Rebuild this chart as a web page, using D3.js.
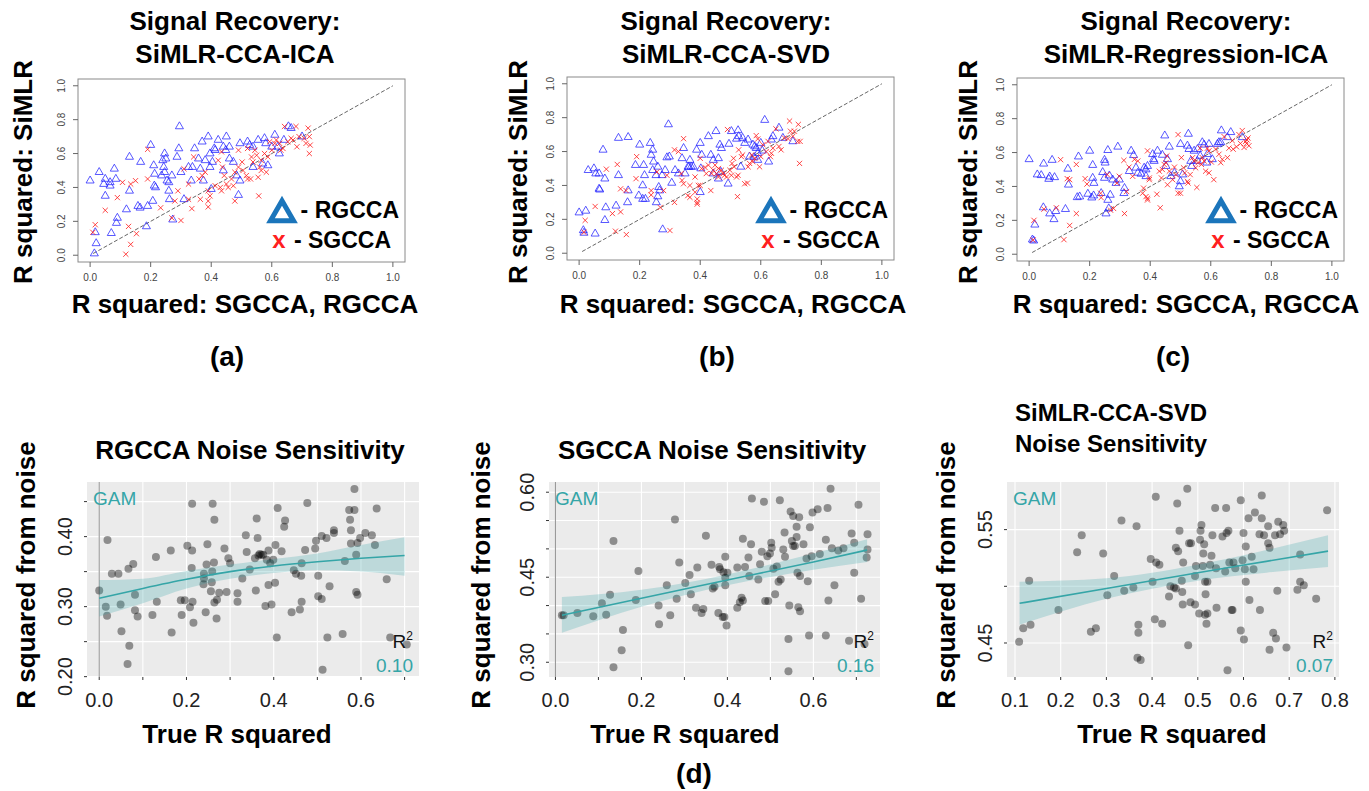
<!DOCTYPE html>
<html>
<head>
<meta charset="utf-8">
<script src="https://cdn.jsdelivr.net/npm/d3@7"></script>
<style>
  body { margin: 0; background: #fff; }
  text { font-family: "Liberation Sans", Arial, Helvetica, sans-serif; }
</style>
</head>
<body>
<svg id="chart" width="1369" height="791"></svg>
<script>
// ---- panel (a): SiMLR-CCA-ICA vs RGCCA / SGCCA ----
const aRgcca = [[0.00,0.44],[0.03,0.49],[0.045,0.42],[0.05,0.45],[0.066,0.43],[0.066,0.41],[0.08,0.51],[0.085,0.45],[0.05,0.35],[0.13,0.58],[0.167,0.55],[0.20,0.65],[0.21,0.53],[0.213,0.48],[0.216,0.40],[0.212,0.41],[0.13,0.38],[0.09,0.22],[0.087,0.19],[0.12,0.27],[0.158,0.29],[0.165,0.28],[0.19,0.29],[0.207,0.32],[0.186,0.17],[0.07,0.13],[0.02,0.07],[0.017,0.135],[0.014,0.01],[0.246,0.60],[0.24,0.56],[0.25,0.57],[0.243,0.52],[0.246,0.49],[0.236,0.47],[0.254,0.44],[0.26,0.43],[0.26,0.38],[0.27,0.47],[0.287,0.58],[0.293,0.63],[0.295,0.76],[0.262,0.33],[0.273,0.21],[0.30,0.49],[0.31,0.33],[0.325,0.52],[0.338,0.52],[0.345,0.63],[0.334,0.44],[0.358,0.57],[0.37,0.67],[0.38,0.56],[0.39,0.70],[0.396,0.60],[0.41,0.63],[0.413,0.62],[0.364,0.51],[0.374,0.44],[0.423,0.68],[0.44,0.64],[0.448,0.62],[0.45,0.70],[0.46,0.64],[0.46,0.57],[0.473,0.55],[0.484,0.47],[0.495,0.66],[0.52,0.67],[0.527,0.65],[0.538,0.64],[0.555,0.68],[0.576,0.69],[0.58,0.66],[0.60,0.64],[0.61,0.71],[0.62,0.64],[0.625,0.60],[0.64,0.68],[0.655,0.76],[0.664,0.75],[0.70,0.70],[0.587,0.53],[0.57,0.54],[0.538,0.52],[0.495,0.44],[0.49,0.355],[0.40,0.39],[0.44,0.50],[0.396,0.52],[0.404,0.55]]
const aSgcca = [[0.017,0.18],[0.009,0.135],[0.05,0.265],[0.09,0.34],[0.107,0.43],[0.134,0.42],[0.15,0.44],[0.19,0.45],[0.19,0.625],[0.127,0.17],[0.134,0.064],[0.118,0.006],[0.153,0.127],[0.233,0.28],[0.27,0.22],[0.30,0.205],[0.29,0.38],[0.28,0.32],[0.31,0.51],[0.325,0.42],[0.336,0.275],[0.342,0.58],[0.36,0.45],[0.37,0.47],[0.364,0.33],[0.39,0.285],[0.39,0.32],[0.39,0.38],[0.38,0.49],[0.413,0.41],[0.43,0.40],[0.434,0.38],[0.423,0.56],[0.437,0.52],[0.443,0.47],[0.45,0.42],[0.456,0.40],[0.467,0.45],[0.473,0.41],[0.478,0.49],[0.49,0.52],[0.49,0.62],[0.502,0.55],[0.505,0.50],[0.516,0.47],[0.52,0.45],[0.53,0.45],[0.533,0.58],[0.538,0.55],[0.544,0.62],[0.55,0.59],[0.555,0.46],[0.557,0.35],[0.56,0.52],[0.565,0.56],[0.576,0.60],[0.582,0.49],[0.587,0.58],[0.593,0.67],[0.60,0.62],[0.61,0.66],[0.615,0.68],[0.626,0.66],[0.63,0.62],[0.637,0.63],[0.642,0.76],[0.653,0.67],[0.664,0.69],[0.67,0.68],[0.68,0.76],[0.683,0.64],[0.69,0.70],[0.707,0.69],[0.713,0.66],[0.72,0.75],[0.724,0.70],[0.724,0.60],[0.727,0.65],[0.565,0.50],[0.478,0.32],[0.396,0.35],[0.52,0.63],[0.434,0.61],[0.325,0.33]]

// ---- panel (b): SiMLR-CCA-SVD ----
const bRgcca = [[0.00,0.24],[0.022,0.25],[0.014,0.135],[0.016,0.12],[0.053,0.115],[0.03,0.49],[0.049,0.50],[0.055,0.47],[0.066,0.47],[0.066,0.38],[0.068,0.375],[0.079,0.61],[0.085,0.44],[0.088,0.27],[0.085,0.195],[0.122,0.28],[0.13,0.68],[0.13,0.46],[0.162,0.685],[0.16,0.30],[0.162,0.37],[0.186,0.52],[0.197,0.34],[0.21,0.32],[0.20,0.64],[0.21,0.40],[0.213,0.52],[0.216,0.46],[0.219,0.32],[0.235,0.65],[0.238,0.58],[0.243,0.61],[0.246,0.54],[0.243,0.49],[0.254,0.46],[0.26,0.51],[0.263,0.39],[0.255,0.30],[0.26,0.335],[0.266,0.37],[0.274,0.46],[0.276,0.14],[0.284,0.49],[0.29,0.565],[0.295,0.76],[0.298,0.57],[0.306,0.415],[0.317,0.49],[0.328,0.47],[0.34,0.56],[0.345,0.62],[0.35,0.47],[0.36,0.51],[0.363,0.51],[0.37,0.51],[0.377,0.51],[0.366,0.55],[0.40,0.65],[0.388,0.61],[0.402,0.50],[0.40,0.36],[0.405,0.58],[0.427,0.69],[0.435,0.58],[0.443,0.55],[0.452,0.72],[0.46,0.56],[0.465,0.64],[0.46,0.44],[0.468,0.48],[0.492,0.41],[0.495,0.645],[0.503,0.72],[0.52,0.675],[0.525,0.725],[0.527,0.69],[0.534,0.51],[0.54,0.68],[0.547,0.65],[0.558,0.67],[0.563,0.57],[0.574,0.64],[0.58,0.63],[0.585,0.62],[0.578,0.566],[0.59,0.59],[0.60,0.65],[0.605,0.605],[0.613,0.786],[0.626,0.54],[0.635,0.67],[0.64,0.69],[0.66,0.74],[0.673,0.68],[0.706,0.66],[0.47,0.62],[0.59,0.55],[0.443,0.47]]
const bSgcca = [[0.016,0.124],[0.02,0.194],[0.053,0.276],[0.09,0.496],[0.11,0.234],[0.126,0.524],[0.12,0.13],[0.137,0.38],[0.137,0.244],[0.156,0.11],[0.155,0.37],[0.19,0.57],[0.188,0.44],[0.238,0.37],[0.238,0.344],[0.257,0.48],[0.268,0.27],[0.279,0.37],[0.29,0.46],[0.30,0.134],[0.315,0.30],[0.315,0.61],[0.328,0.60],[0.337,0.47],[0.345,0.676],[0.34,0.43],[0.345,0.41],[0.359,0.34],[0.366,0.33],[0.366,0.40],[0.383,0.45],[0.383,0.36],[0.39,0.32],[0.39,0.30],[0.39,0.29],[0.394,0.40],[0.40,0.56],[0.40,0.40],[0.405,0.50],[0.416,0.506],[0.42,0.47],[0.427,0.52],[0.435,0.37],[0.438,0.47],[0.443,0.49],[0.449,0.52],[0.454,0.47],[0.46,0.50],[0.46,0.45],[0.47,0.49],[0.476,0.47],[0.48,0.46],[0.487,0.45],[0.49,0.73],[0.498,0.49],[0.503,0.46],[0.505,0.53],[0.51,0.56],[0.512,0.51],[0.52,0.45],[0.523,0.334],[0.525,0.46],[0.527,0.61],[0.536,0.57],[0.54,0.58],[0.547,0.41],[0.556,0.414],[0.558,0.51],[0.563,0.53],[0.57,0.58],[0.574,0.54],[0.58,0.56],[0.585,0.694],[0.59,0.674],[0.596,0.51],[0.60,0.57],[0.607,0.64],[0.618,0.60],[0.624,0.66],[0.632,0.57],[0.635,0.59],[0.64,0.62],[0.65,0.734],[0.66,0.63],[0.667,0.61],[0.678,0.68],[0.69,0.676],[0.695,0.78],[0.698,0.72],[0.706,0.69],[0.711,0.72],[0.722,0.66],[0.724,0.76],[0.728,0.53],[0.73,0.66]]

// ---- panel (c): SiMLR-Regression-ICA ----
const cRgcca = [[0.00,0.56],[0.011,0.086],[0.015,0.08],[0.019,0.174],[0.027,0.47],[0.04,0.466],[0.048,0.534],[0.047,0.276],[0.065,0.444],[0.068,0.458],[0.068,0.24],[0.076,0.556],[0.084,0.454],[0.082,0.206],[0.088,0.254],[0.12,0.266],[0.128,0.504],[0.13,0.41],[0.163,0.576],[0.159,0.336],[0.167,0.34],[0.20,0.61],[0.194,0.356],[0.21,0.526],[0.21,0.45],[0.214,0.42],[0.207,0.334],[0.213,0.346],[0.238,0.36],[0.243,0.484],[0.249,0.556],[0.251,0.54],[0.249,0.45],[0.254,0.24],[0.26,0.614],[0.26,0.32],[0.265,0.464],[0.263,0.27],[0.268,0.35],[0.276,0.44],[0.287,0.42],[0.293,0.634],[0.298,0.44],[0.313,0.36],[0.315,0.39],[0.331,0.49],[0.337,0.61],[0.345,0.584],[0.353,0.51],[0.359,0.48],[0.37,0.474],[0.38,0.51],[0.386,0.50],[0.391,0.52],[0.386,0.46],[0.408,0.59],[0.411,0.56],[0.413,0.55],[0.424,0.61],[0.44,0.586],[0.448,0.70],[0.452,0.52],[0.457,0.56],[0.463,0.634],[0.468,0.46],[0.48,0.48],[0.496,0.40],[0.50,0.65],[0.50,0.43],[0.507,0.47],[0.523,0.64],[0.526,0.71],[0.528,0.62],[0.534,0.55],[0.545,0.61],[0.556,0.62],[0.565,0.58],[0.572,0.66],[0.578,0.646],[0.587,0.54],[0.589,0.59],[0.594,0.65],[0.605,0.56],[0.622,0.65],[0.627,0.66],[0.633,0.66],[0.635,0.73],[0.655,0.69],[0.666,0.72],[0.704,0.69],[0.537,0.52],[0.556,0.55]]
const cSgcca = [[0.016,0.20],[0.013,0.084],[0.049,0.266],[0.09,0.274],[0.104,0.558],[0.115,0.086],[0.126,0.446],[0.134,0.44],[0.134,0.17],[0.156,0.53],[0.156,0.24],[0.185,0.446],[0.191,0.414],[0.236,0.36],[0.238,0.334],[0.258,0.47],[0.269,0.26],[0.279,0.27],[0.29,0.42],[0.298,0.46],[0.313,0.554],[0.315,0.24],[0.322,0.37],[0.33,0.514],[0.342,0.46],[0.348,0.56],[0.359,0.55],[0.375,0.36],[0.378,0.39],[0.386,0.34],[0.391,0.33],[0.391,0.32],[0.397,0.45],[0.397,0.44],[0.391,0.61],[0.422,0.354],[0.43,0.49],[0.433,0.274],[0.437,0.45],[0.44,0.50],[0.446,0.53],[0.452,0.54],[0.455,0.58],[0.457,0.41],[0.463,0.49],[0.474,0.44],[0.48,0.514],[0.485,0.47],[0.492,0.706],[0.492,0.36],[0.50,0.36],[0.503,0.57],[0.51,0.51],[0.514,0.48],[0.523,0.43],[0.525,0.42],[0.532,0.47],[0.54,0.57],[0.545,0.55],[0.55,0.51],[0.554,0.394],[0.558,0.54],[0.565,0.626],[0.569,0.53],[0.572,0.57],[0.578,0.55],[0.583,0.49],[0.589,0.626],[0.594,0.61],[0.594,0.48],[0.602,0.544],[0.61,0.44],[0.616,0.62],[0.627,0.59],[0.633,0.54],[0.638,0.56],[0.644,0.694],[0.655,0.57],[0.66,0.626],[0.671,0.67],[0.674,0.62],[0.685,0.634],[0.693,0.706],[0.698,0.654],[0.704,0.73],[0.71,0.63],[0.715,0.666],[0.718,0.654],[0.72,0.674],[0.726,0.64],[0.723,0.686]]

const recoveryTicks = [0, 0.2, 0.4, 0.6, 0.8, 1.0]

// ---- panel (d): noise sensitivity, true R^2 vs R^2 from noise ----
const rgccaNoise = [[0.0,0.323],[0.015,0.300],[0.018,0.287],[0.019,0.395],[0.029,0.347],[0.044,0.347],[0.049,0.303],[0.051,0.265],[0.067,0.354],[0.069,0.244],[0.065,0.218],[0.078,0.361],[0.082,0.317],[0.082,0.295],[0.088,0.286],[0.122,0.288],[0.13,0.371],[0.132,0.307],[0.164,0.380],[0.166,0.263],[0.187,0.309],[0.189,0.288],[0.196,0.309],[0.202,0.387],[0.208,0.299],[0.212,0.355],[0.213,0.447],[0.213,0.380],[0.214,0.307],[0.216,0.277],[0.240,0.347],[0.244,0.292],[0.246,0.360],[0.248,0.389],[0.239,0.332],[0.240,0.340],[0.256,0.322],[0.258,0.335],[0.259,0.350],[0.26,0.447],[0.263,0.363],[0.264,0.424],[0.264,0.306],[0.269,0.283],[0.27,0.310],[0.275,0.320],[0.287,0.383],[0.292,0.321],[0.296,0.369],[0.3,0.362],[0.317,0.307],[0.317,0.319],[0.328,0.340],[0.336,0.402],[0.338,0.378],[0.345,0.353],[0.357,0.369],[0.359,0.323],[0.361,0.426],[0.363,0.398],[0.365,0.373],[0.368,0.375],[0.372,0.374],[0.376,0.374],[0.381,0.301],[0.384,0.367],[0.388,0.380],[0.388,0.331],[0.392,0.362],[0.395,0.303],[0.399,0.367],[0.403,0.334],[0.404,0.388],[0.407,0.256],[0.409,0.441],[0.418,0.379],[0.424,0.414],[0.426,0.423],[0.441,0.292],[0.446,0.352],[0.451,0.347],[0.46,0.296],[0.463,0.344],[0.464,0.362],[0.464,0.307],[0.472,0.381],[0.477,0.448],[0.495,0.383],[0.497,0.394],[0.502,0.344],[0.502,0.315],[0.51,0.401],[0.51,0.311],[0.512,0.210],[0.521,0.398],[0.523,0.256],[0.528,0.329],[0.538,0.409],[0.538,0.405],[0.558,0.261],[0.563,0.365],[0.573,0.438],[0.575,0.424],[0.577,0.409],[0.577,0.390],[0.585,0.438],[0.589,0.374],[0.589,0.321],[0.592,0.317],[0.592,0.391],[0.598,0.398],[0.585,0.468],[0.61,0.405],[0.625,0.402],[0.632,0.388],[0.636,0.440],[0.659,0.339],[0.667,0.256],[0.705,0.246]]
const rgccaGamX = [0, 0.1, 0.2, 0.3, 0.4, 0.5, 0.6, 0.7]
const rgccaGamFit = [0.312, 0.326, 0.339, 0.350, 0.358, 0.364, 0.369, 0.373]
const rgccaGamLo = [0.286, 0.305, 0.326, 0.340, 0.348, 0.352, 0.350, 0.344]
const rgccaGamHi = [0.338, 0.340, 0.351, 0.360, 0.368, 0.376, 0.388, 0.399]

const sgccaNoise = [[0.015,0.383],[0.019,0.383],[0.051,0.387],[0.088,0.381],[0.108,0.404],[0.118,0.384],[0.127,0.419],[0.135,0.514],[0.135,0.291],[0.154,0.321],[0.157,0.357],[0.187,0.410],[0.193,0.461],[0.24,0.400],[0.241,0.367],[0.259,0.436],[0.267,0.383],[0.278,0.552],[0.282,0.412],[0.288,0.476],[0.302,0.440],[0.312,0.454],[0.315,0.420],[0.327,0.396],[0.33,0.467],[0.34,0.387],[0.344,0.394],[0.35,0.523],[0.363,0.472],[0.366,0.430],[0.37,0.433],[0.379,0.387],[0.381,0.468],[0.383,0.464],[0.389,0.380],[0.391,0.459],[0.395,0.486],[0.393,0.380],[0.395,0.449],[0.395,0.436],[0.398,0.365],[0.4,0.458],[0.423,0.467],[0.423,0.396],[0.429,0.406],[0.433,0.414],[0.436,0.409],[0.436,0.518],[0.441,0.468],[0.449,0.485],[0.451,0.452],[0.455,0.508],[0.457,0.589],[0.472,0.446],[0.476,0.473],[0.48,0.495],[0.485,0.583],[0.488,0.408],[0.493,0.487],[0.495,0.408],[0.499,0.492],[0.502,0.511],[0.503,0.502],[0.507,0.465],[0.511,0.420],[0.515,0.469],[0.519,0.442],[0.522,0.586],[0.524,0.446],[0.53,0.499],[0.533,0.529],[0.534,0.486],[0.542,0.284],[0.542,0.341],[0.544,0.400],[0.547,0.566],[0.55,0.514],[0.553,0.558],[0.553,0.505],[0.557,0.505],[0.561,0.539],[0.561,0.521],[0.563,0.458],[0.565,0.397],[0.567,0.556],[0.569,0.390],[0.569,0.452],[0.577,0.508],[0.584,0.483],[0.587,0.443],[0.59,0.347],[0.592,0.538],[0.596,0.487],[0.598,0.564],[0.61,0.570],[0.615,0.491],[0.629,0.516],[0.629,0.347],[0.633,0.572],[0.635,0.409],[0.64,0.606],[0.643,0.501],[0.649,0.436],[0.658,0.497],[0.67,0.501],[0.683,0.338],[0.689,0.527],[0.695,0.458],[0.695,0.511],[0.705,0.578],[0.711,0.412],[0.719,0.332],[0.726,0.526],[0.726,0.499],[0.724,0.485]]
const sgccaGamX = [0.015, 0.2, 0.4, 0.6, 0.725]
const sgccaGamFit = [0.383, 0.413, 0.445, 0.477, 0.498]
const sgccaGamLo = [0.352, 0.398, 0.436, 0.463, 0.477]
const sgccaGamHi = [0.415, 0.428, 0.455, 0.492, 0.517]

const simlrNoise = [[0.109,0.451],[0.118,0.463],[0.131,0.505],[0.134,0.466],[0.195,0.479],[0.236,0.530],[0.246,0.545],[0.266,0.460],[0.277,0.463],[0.293,0.529],[0.302,0.492],[0.317,0.509],[0.333,0.558],[0.339,0.496],[0.359,0.499],[0.366,0.553],[0.37,0.466],[0.37,0.459],[0.368,0.437],[0.375,0.435],[0.397,0.524],[0.401,0.504],[0.406,0.471],[0.408,0.579],[0.409,0.521],[0.416,0.519],[0.422,0.467],[0.437,0.491],[0.44,0.500],[0.448,0.499],[0.452,0.498],[0.452,0.534],[0.455,0.573],[0.457,0.531],[0.46,0.549],[0.465,0.505],[0.466,0.495],[0.467,0.484],[0.468,0.521],[0.479,0.448],[0.477,0.586],[0.481,0.538],[0.484,0.486],[0.485,0.538],[0.494,0.484],[0.494,0.509],[0.496,0.518],[0.503,0.476],[0.505,0.541],[0.506,0.549],[0.508,0.554],[0.511,0.518],[0.512,0.529],[0.514,0.537],[0.516,0.504],[0.516,0.475],[0.517,0.493],[0.519,0.467],[0.521,0.476],[0.521,0.504],[0.527,0.519],[0.53,0.527],[0.532,0.545],[0.538,0.569],[0.54,0.516],[0.541,0.481],[0.554,0.544],[0.56,0.513],[0.562,0.569],[0.563,0.547],[0.565,0.426],[0.567,0.549],[0.569,0.521],[0.574,0.479],[0.576,0.479],[0.578,0.521],[0.582,0.516],[0.594,0.576],[0.594,0.461],[0.6,0.547],[0.598,0.523],[0.601,0.453],[0.603,0.515],[0.605,0.535],[0.605,0.504],[0.611,0.560],[0.613,0.488],[0.618,0.526],[0.622,0.515],[0.625,0.565],[0.635,0.546],[0.636,0.479],[0.64,0.580],[0.64,0.560],[0.645,0.545],[0.654,0.553],[0.654,0.538],[0.657,0.534],[0.657,0.444],[0.665,0.459],[0.671,0.454],[0.669,0.545],[0.674,0.496],[0.676,0.557],[0.68,0.546],[0.687,0.554],[0.689,0.549],[0.694,0.446],[0.718,0.497],[0.724,0.528],[0.724,0.504],[0.732,0.501],[0.759,0.489],[0.783,0.567]]
const simlrGamX = [0.11, 0.3, 0.5, 0.65, 0.785]
const simlrGamFit = [0.485, 0.498, 0.512, 0.522, 0.531]
const simlrGamLo = [0.466, 0.489, 0.505, 0.512, 0.517]
const simlrGamHi = [0.504, 0.507, 0.519, 0.532, 0.545]

const teal = "#35a5a7"
const svg = d3.select("#chart")

function recoveryPanel(p) {
  const x = d3.scaleLinear().domain([-0.04, 1.04]).range([p.left, p.left + 327])
  const y = d3.scaleLinear().domain([-0.04, 1.04]).range([p.top + 183, p.top])
  const g = svg.append("g")

  g.append("text").attr("x", p.titleX).attr("y", 30).attr("text-anchor", "middle")
    .attr("font-size", 26).attr("font-weight", "bold").text("Signal Recovery:")
  g.append("text").attr("x", p.titleX).attr("y", 63).attr("text-anchor", "middle")
    .attr("font-size", 26).attr("font-weight", "bold").text(p.method)

  g.append("rect").attr("x", p.left).attr("y", p.top).attr("width", 327).attr("height", 183)
    .attr("fill", "none").attr("stroke", "#8a8a8a")

  // axes like base R: ticks outside the box
  g.selectAll(".xt").data(recoveryTicks).enter().append("line")
    .attr("x1", d => x(d)).attr("x2", d => x(d))
    .attr("y1", p.top + 183).attr("y2", p.top + 188).attr("stroke", "#666")
  g.selectAll(".xl").data(recoveryTicks).enter().append("text")
    .attr("x", d => x(d)).attr("y", p.top + 202).attr("text-anchor", "middle")
    .attr("font-size", 10).attr("fill", "#444").text(d => d.toFixed(1))
  g.selectAll(".yt").data(recoveryTicks).enter().append("line")
    .attr("x1", p.left - 5).attr("x2", p.left)
    .attr("y1", d => y(d)).attr("y2", d => y(d)).attr("stroke", "#666")
  g.selectAll(".yl").data(recoveryTicks).enter().append("text")
    .attr("transform", d => `translate(${p.left - 13},${y(d)}) rotate(-90)`)
    .attr("text-anchor", "middle").attr("font-size", 10).attr("fill", "#444")
    .text(d => d.toFixed(1))

  g.append("line").attr("x1", x(0.01)).attr("y1", y(0.01)).attr("x2", x(1)).attr("y2", y(1))
    .attr("stroke", "#555").attr("stroke-dasharray", "4,2").attr("stroke-width", 0.9)

  const tri = d3.symbol().type(d3.symbolTriangle).size(28)
  g.selectAll(".tri").data(p.rgcca).enter().append("path")
    .attr("d", tri).attr("transform", d => `translate(${x(d[0])},${y(d[1])})`)
    .attr("fill", "none").attr("stroke", "#2222ff").attr("stroke-opacity", 0.75)

  const s = 2.6
  g.selectAll(".crs").data(p.sgcca).enter().append("path")
    .attr("d", `M${-s},${-s}L${s},${s}M${-s},${s}L${s},${-s}`)
    .attr("transform", d => `translate(${x(d[0])},${y(d[1])})`)
    .attr("stroke", "#ff1a1a").attr("stroke-opacity", 0.8).attr("stroke-width", 1)

  // legend
  const lx = p.left + 321
  g.append("text").attr("x", lx).attr("y", 218).attr("text-anchor", "end")
    .attr("font-size", 23).attr("font-weight", "bold").text("- RGCCA")
  g.append("path").attr("d", d3.symbol().type(d3.symbolTriangle).size(230)())
    .attr("transform", `translate(${lx - 117},${214})`)
    .attr("fill", "none").attr("stroke", "#1b75bb").attr("stroke-width", 5)
  g.append("text").attr("x", lx - 8).attr("y", 248).attr("text-anchor", "end")
    .attr("font-size", 23).attr("font-weight", "bold").text("- SGCCA")
  g.append("text").attr("x", lx - 120).attr("y", 248).attr("text-anchor", "middle")
    .attr("font-size", 24).attr("font-weight", "bold").attr("fill", "#ff2020").text("x")

  g.append("text").attr("transform", `translate(${p.ylabX},172) rotate(-90)`)
    .attr("text-anchor", "middle").attr("font-size", 26).attr("font-weight", "bold")
    .text("R squared: SiMLR")
  g.append("text").attr("x", p.xlabX).attr("y", 313).attr("text-anchor", "middle")
    .attr("font-size", 26).attr("font-weight", "bold").text("R squared: SGCCA, RGCCA")
  g.append("text").attr("x", p.tagX).attr("y", 366).attr("text-anchor", "middle")
    .attr("font-size", 28).attr("font-weight", "bold").text(p.tag)
}

function noisePanel(p) {
  const top = 482, bottom = 677
  const x = d3.scaleLinear().domain(p.xDomain).range([p.left, p.right])
  const y = d3.scaleLinear().domain(p.yDomain).range([bottom, top])
  const g = svg.append("g")

  p.title.forEach((t, i) => {
    g.append("text").attr("x", p.titleX).attr("y", p.titleY[i])
      .attr("text-anchor", p.titleAnchor).attr("font-size", p.titleSize)
      .attr("font-weight", "bold").text(t)
  })

  g.append("rect").attr("x", p.left).attr("y", top).attr("width", p.right - p.left)
    .attr("height", bottom - top).attr("fill", "#ebebeb")
  g.selectAll(".gx").data(p.xTicks).enter().append("line")
    .attr("x1", d => x(d)).attr("x2", d => x(d)).attr("y1", top).attr("y2", bottom)
    .attr("stroke", "#fff").attr("stroke-width", 1.1)
  g.selectAll(".gy").data(p.yTicks).enter().append("line")
    .attr("x1", p.left).attr("x2", p.right).attr("y1", d => y(d)).attr("y2", d => y(d))
    .attr("stroke", "#fff").attr("stroke-width", 1.1)
  if (p.vline) {
    g.append("line").attr("x1", x(0)).attr("x2", x(0)).attr("y1", top).attr("y2", bottom)
      .attr("stroke", "#9a9a9a").attr("stroke-width", 1.1)
  }

  // ticks + labels
  g.selectAll(".tx").data(p.xTicks).enter().append("line")
    .attr("x1", d => x(d)).attr("x2", d => x(d)).attr("y1", bottom).attr("y2", bottom + 3)
    .attr("stroke", "#333")
  g.selectAll(".lx").data(p.xLabels).enter().append("text")
    .attr("x", d => x(d)).attr("y", 707).attr("text-anchor", "middle")
    .attr("font-size", 20).attr("fill", "#222").text(d => d.toFixed(1))
  g.selectAll(".ty").data(p.yTicks).enter().append("line")
    .attr("x1", p.left - 3).attr("x2", p.left).attr("y1", d => y(d)).attr("y2", d => y(d))
    .attr("stroke", "#333")
  g.selectAll(".ly").data(p.yLabels).enter().append("text")
    .attr("transform", d => `translate(${p.left - 15},${y(d)}) rotate(-90)`)
    .attr("text-anchor", "middle").attr("font-size", 20).attr("fill", "#222")
    .text(d => d.toFixed(2))

  g.selectAll(".pt").data(p.points).enter().append("circle")
    .attr("cx", d => x(d[0])).attr("cy", d => y(d[1])).attr("r", 4)
    .attr("fill", "#000").attr("fill-opacity", 0.4)

  const idx = d3.range(p.gamX.length)
  g.append("path").datum(idx)
    .attr("d", d3.area().curve(d3.curveMonotoneX).x(i => x(p.gamX[i]))
      .y0(i => y(p.gamLo[i])).y1(i => y(p.gamHi[i])))
    .attr("fill", teal).attr("fill-opacity", 0.25)
  g.append("path").datum(idx)
    .attr("d", d3.line().curve(d3.curveMonotoneX).x(i => x(p.gamX[i])).y(i => y(p.gamFit[i])))
    .attr("fill", "none").attr("stroke", teal).attr("stroke-width", 1.6)

  g.append("text").attr("x", p.left + 6).attr("y", 505).attr("font-size", 19)
    .attr("fill", teal).text("GAM")
  const r2 = g.append("text").attr("x", p.right - 6).attr("y", 648).attr("text-anchor", "end")
    .attr("font-size", 19).attr("fill", "#111")
  r2.append("tspan").text("R")
  r2.append("tspan").attr("dy", -8).attr("font-size", 12).text("2")
  g.append("text").attr("x", p.right - 6).attr("y", 672).attr("text-anchor", "end")
    .attr("font-size", 19).attr("fill", teal).text(p.r2)

  g.append("text").attr("transform", `translate(${p.ylabX},575) rotate(-90)`)
    .attr("text-anchor", "middle").attr("font-size", 26).attr("font-weight", "bold")
    .text("R squared from noise")
  g.append("text").attr("x", p.xlabX).attr("y", 743).attr("text-anchor", "middle")
    .attr("font-size", 26).attr("font-weight", "bold").text("True R squared")
}

recoveryPanel({ left: 78, top: 79, method: "SiMLR-CCA-ICA", rgcca: aRgcca, sgcca: aSgcca,
  titleX: 235, xlabX: 245, ylabX: 32, tagX: 227, tag: "(a)" })
recoveryPanel({ left: 567, top: 77, method: "SiMLR-CCA-SVD", rgcca: bRgcca, sgcca: bSgcca,
  titleX: 726, xlabX: 733, ylabX: 527, tagX: 717, tag: "(b)" })
recoveryPanel({ left: 1017, top: 78, method: "SiMLR-Regression-ICA", rgcca: cRgcca, sgcca: cSgcca,
  titleX: 1186, xlabX: 1186, ylabX: 977, tagX: 1173, tag: "(c)" })

noisePanel({ left: 87, right: 419, xDomain: [-0.028, 0.733], yDomain: [0.1995, 0.478],
  xTicks: [0, 0.1, 0.2, 0.3, 0.4, 0.5, 0.6, 0.7], xLabels: [0, 0.2, 0.4, 0.6],
  yTicks: [0.20, 0.25, 0.30, 0.35, 0.40, 0.45], yLabels: [0.20, 0.30, 0.40],
  points: rgccaNoise, gamX: rgccaGamX, gamFit: rgccaGamFit, gamLo: rgccaGamLo, gamHi: rgccaGamHi,
  vline: true, r2: "0.10", title: ["RGCCA Noise Sensitivity"], titleX: 250, titleY: [459],
  titleSize: 26, titleAnchor: "middle", ylabX: 35, xlabX: 237 })
noisePanel({ left: 549, right: 880, xDomain: [-0.015, 0.755], yDomain: [0.274, 0.618],
  xTicks: [0, 0.1, 0.2, 0.3, 0.4, 0.5, 0.6, 0.7], xLabels: [0, 0.2, 0.4, 0.6],
  yTicks: [0.30, 0.35, 0.40, 0.45, 0.50, 0.55, 0.60], yLabels: [0.30, 0.45, 0.60],
  points: sgccaNoise, gamX: sgccaGamX, gamFit: sgccaGamFit, gamLo: sgccaGamLo, gamHi: sgccaGamHi,
  vline: true, r2: "0.16", title: ["SGCCA Noise Sensitivity"], titleX: 712, titleY: [459],
  titleSize: 26, titleAnchor: "middle", ylabX: 490, xlabX: 685 })
noisePanel({ left: 1007, right: 1339, xDomain: [0.0825, 0.809], yDomain: [0.420, 0.592],
  xTicks: [0.1, 0.2, 0.3, 0.4, 0.5, 0.6, 0.7, 0.8], xLabels: [0.1, 0.2, 0.3, 0.4, 0.5, 0.6, 0.7, 0.8],
  yTicks: [0.45, 0.50, 0.55], yLabels: [0.45, 0.55],
  points: simlrNoise, gamX: simlrGamX, gamFit: simlrGamFit, gamLo: simlrGamLo, gamHi: simlrGamHi,
  vline: false, r2: "0.07", title: ["SiMLR-CCA-SVD", "Noise Sensitivity"], titleX: 1015,
  titleY: [421, 452], titleSize: 24, titleAnchor: "start", ylabX: 955, xlabX: 1172 })

svg.append("text").attr("x", 694).attr("y", 783).attr("text-anchor", "middle")
  .attr("font-size", 28).attr("font-weight", "bold").text("(d)")
</script>
</body>
</html>
